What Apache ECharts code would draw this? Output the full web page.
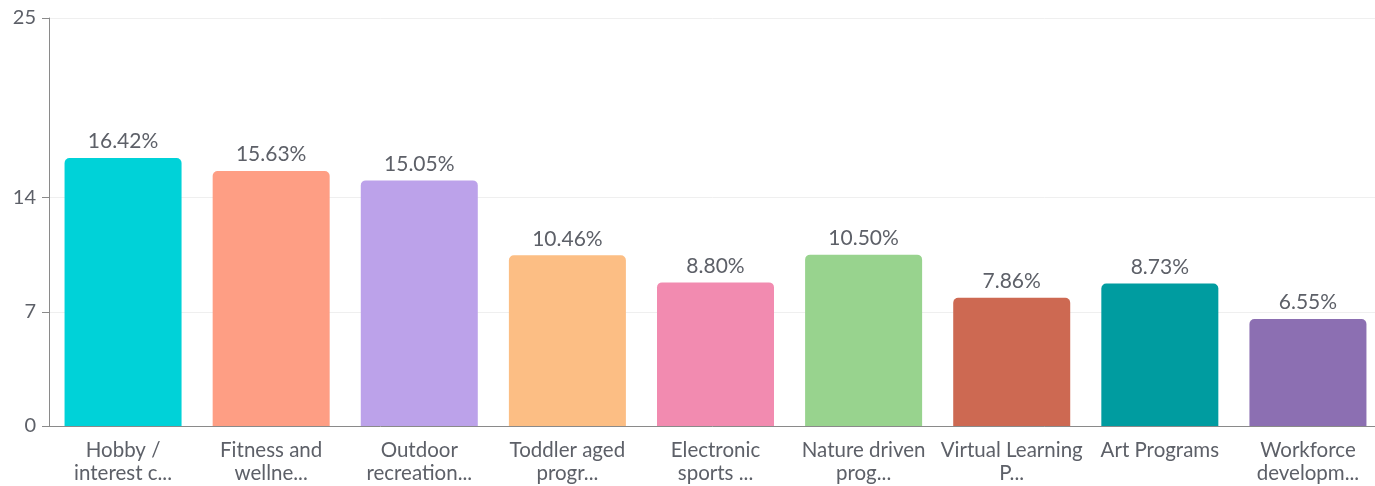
<!DOCTYPE html>
<html>
<head>
<meta charset="utf-8">
<script src="https://cdn.jsdelivr.net/npm/echarts@6/dist/echarts.min.js"></script>
<style>
html,body{margin:0;padding:0;background:#fff;overflow:hidden;}
#chart{width:1375px;height:486px;}
</style>
</head>
<body>
<div id="chart"></div>
<script>
const categories = [
  "Hobby /\ninterest c...",
  "Fitness and\nwellne...",
  "Outdoor\nrecreation...",
  "Toddler aged\nprogr...",
  "Electronic\nsports ...",
  "Nature driven\nprog...",
  "Virtual Learning\nP...",
  "Art Programs",
  "Workforce\ndevelopm..."
];
const values = [16.42, 15.63, 15.05, 10.46, 8.80, 10.50, 7.86, 8.73, 6.55];
const colors = ["#00d2d8", "#fe9e84", "#bca2ea", "#fcbe84", "#f28bb0", "#98d38e", "#cd6952", "#009ca0", "#8c6fb2"];
const yTicks = [0, 7, 14, 25];

const chart = echarts.init(document.getElementById('chart'));
const font = "Lato, 'Noto Sans', sans-serif";
chart.setOption({
  animation: false,
  grid: {left: 49, width: 1333, top: 18, bottom: 60, containLabel: false, outerBoundsMode: 'none'},
  xAxis: {
    type: 'category',
    data: categories,
    axisLine: {lineStyle: {color: '#8a8a8a', width: 1}},
    axisTick: {alignWithLabel: true, length: 7, lineStyle: {color: '#8a8a8a'}},
    axisLabel: {color: '#5d6068', fontSize: 20.5, fontFamily: font, lineHeight: 23, margin: 13, interval: 0, hideOverlap: false}
  },
  yAxis: {
    type: 'value',
    min: 0,
    max: 25,
    axisLine: {show: true, lineStyle: {color: '#8a8a8a', width: 1}},
    axisTick: {show: true, length: 7, customValues: yTicks, lineStyle: {color: '#8a8a8a'}},
    axisLabel: {color: '#5d6068', fontSize: 20, fontFamily: font, margin: 13, customValues: yTicks},
    splitLine: {show: true, lineStyle: {color: '#efefef', width: 1}}
  },
  series: [{
    type: 'bar',
    data: values.map((v, i) => ({value: v, itemStyle: {color: colors[i]}})),
    barWidth: '79%',
    itemStyle: {borderRadius: [5, 5, 0, 0]},
    label: {
      show: true,
      position: 'top',
      distance: 6,
      color: '#5d6068',
      fontSize: 21,
      fontFamily: font,
      formatter: p => p.value.toFixed(2) + '%'
    }
  }]
});
</script>
</body>
</html>
